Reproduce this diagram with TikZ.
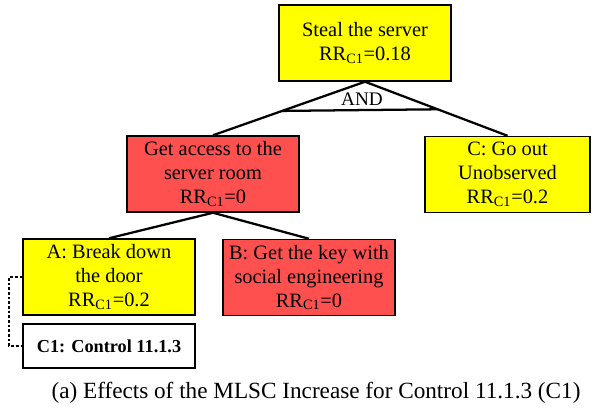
\documentclass[tikz,border=0pt]{standalone}
\usepackage{fontspec}
\setmainfont{Liberation Serif}
\usetikzlibrary{calc}
\definecolor{goalyellow}{RGB}{255,255,0}
\definecolor{goalred}{RGB}{255,80,80}
\newcommand{\rrc}[1]{RR\textsubscript{C1}=#1}
\begin{document}
\begin{tikzpicture}[x=0.75pt,y=-0.75pt,
    goal/.style={draw, line width=1.1pt, align=center, inner sep=0pt,
      minimum width=129pt, minimum height=57pt,
      font=\fontsize{15.3}{18}\selectfont},
    ctrl/.style={draw, line width=1.1pt, fill=white, inner sep=0pt,
      minimum width=129pt, minimum height=33pt,
      font=\fontsize{13.7}{15}\selectfont\bfseries},
    edge/.style={line width=1.7pt}]
  \useasboundingbox (0,0) rectangle (595,412);
  \node[goal, fill=goalyellow] (steal) at (365,43) {Steal the server\\\rrc{0.18}};
  \node[goal, fill=goalred] (access) at (213,174) {Get access to the\\server room\\\rrc{0}};
  \node[goal, fill=goalyellow, minimum width=124pt] (goout) at (507.5,174.5) {C: Go out\\Unobserved\\\rrc{0.2}};
  \node[goal, fill=goalyellow] (door) at (109,277) {A: Break down\\the door\\\rrc{0.2}};
  \node[goal, fill=goalred] (key) at (309,277.5) {B: Get the key with\\social engineering\\\rrc{0}};
  \node[ctrl] (c1) at (109,346) {C1: Control 11.1.3};
  % AND gate
  \draw[edge] (steal.south)--(access.north);
  \draw[edge] (steal.south)--(goout.north);
  \draw[edge] ($(steal.south)!0.545!(access.north)$)--($(steal.south)!0.51!(goout.north)$);
  \node[font=\fontsize{14.4}{16}\selectfont] (and) at (362,99) {AND};
  \draw[edge] (access.south)--(door.north);
  \draw[edge] (access.south)--(key.north);
  % control link
  \draw[line width=1.2pt, dash pattern=on 2pt off 1.5pt] (door.west)--++(-13,0) |- (c1.west);
  \node[font=\fontsize{17.4}{20}\selectfont] (caption) at (316,393) {(a) Effects of the MLSC Increase for Control 11.1.3 (C1)};
\end{tikzpicture}
\end{document}
